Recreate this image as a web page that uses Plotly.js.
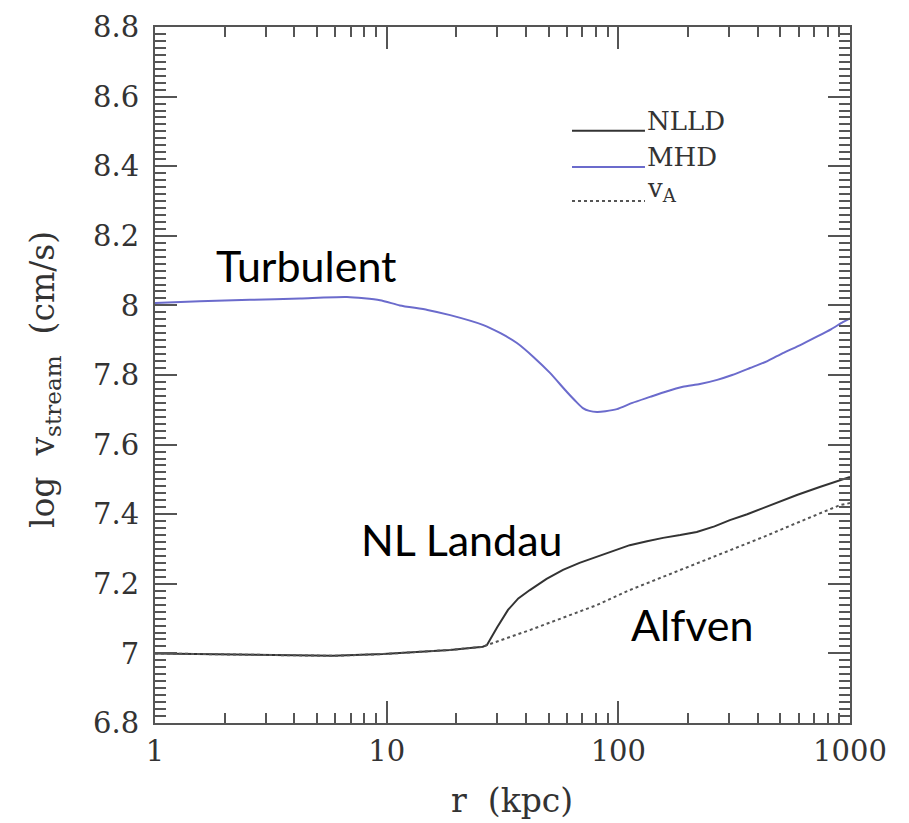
<!DOCTYPE html>
<html>
<head>
<meta charset="utf-8">
<script src="https://cdn.plot.ly/plotly-3.0.1.min.js"></script>
<style>
  html, body { margin: 0; padding: 0; background: #fff; }
  #chart { width: 909px; height: 823px; }
</style>
</head>
<body>
<div id="chart"></div>
<script>
// Streaming speed vs radius: MHD (turbulent), non-linear Landau damping, Alfven speed
const rMHD = [1, 1.56, 2.57, 4.23, 6.74, 9.36, 11.4, 15.0, 18.8, 26.0, 31.0, 36.5, 43.0, 50.7, 60.0, 66.0, 70.3, 75.0, 80.9, 88.0, 98.6, 115, 137, 160, 190, 225, 267, 310, 370, 440, 513, 610, 719, 831, 931, 1000];
const vMHD = [8.007, 8.012, 8.016, 8.020, 8.024, 8.015, 8.000, 7.987, 7.972, 7.944, 7.920, 7.892, 7.852, 7.806, 7.751, 7.722, 7.705, 7.697, 7.694, 7.696, 7.702, 7.720, 7.737, 7.752, 7.766, 7.774, 7.786, 7.800, 7.820, 7.840, 7.863, 7.886, 7.910, 7.932, 7.952, 7.963];

const rNLLD = [1, 2.57, 5.86, 9.64, 18.8, 26.0, 27.1, 30.0, 33.4, 37.0, 41.5, 49.0, 57.7, 68.0, 80.9, 95.0, 112, 133, 156, 185, 218, 260, 303, 360, 421, 500, 590, 740, 904, 1000];
const vNLLD = [7.000, 6.996, 6.993, 6.998, 7.010, 7.019, 7.024, 7.075, 7.125, 7.158, 7.182, 7.214, 7.240, 7.260, 7.277, 7.295, 7.311, 7.322, 7.332, 7.340, 7.349, 7.365, 7.383, 7.400, 7.418, 7.436, 7.455, 7.478, 7.498, 7.507];

const rVA = [1, 2.57, 5.86, 9.64, 18.8, 26.0, 27.1, 41.5, 57.7, 80.9, 112, 156, 218, 303, 421, 590, 904, 1000];
const vVA = [7.000, 6.996, 6.993, 6.998, 7.010, 7.019, 7.024, 7.067, 7.102, 7.139, 7.182, 7.220, 7.260, 7.297, 7.334, 7.375, 7.426, 7.432];

const seriesNames = ['NLLD', 'MHD', 'v<sub>A</sub>'];
const xTickVals = [1, 10, 100, 1000];
const xTickText = ['1', '10', '100', '1000'];
const xTitle = 'r  (kpc)';
const yTitle = 'log  v<sub>stream</sub>  (cm/s)';

const BLUE = '#6b6bcc';
const DARK = '#333333';
const DOT = '#555555';
const AXC = '#555555';
const serif = 'DejaVu Serif, serif';
const sans = 'Lato, "Open Sans", sans-serif';

const traces = [
  { x: rNLLD, y: vNLLD, mode: 'lines', name: seriesNames[0],
    line: { color: DARK, width: 2 }, showlegend: false },
  { x: rVA, y: vVA, mode: 'lines', name: seriesNames[2],
    line: { color: DOT, width: 2, dash: 'dot' }, showlegend: false },
  { x: rMHD, y: vMHD, mode: 'lines', name: seriesNames[1],
    line: { color: BLUE, width: 2, shape: 'spline', smoothing: 0.6 }, showlegend: false }
];

// legend keys drawn in paper space
const legX0 = 0.6, legX1 = 0.705;
const legY = [0.851, 0.799, 0.750];
const legColors = [DARK, BLUE, DOT];
const legDash = ['solid', 'solid', 'dot'];

const shapes = legY.map((y, i) => ({
  type: 'line', xref: 'paper', yref: 'paper',
  x0: legX0, x1: legX1, y0: y, y1: y,
  line: { color: legColors[i], width: 2, dash: legDash[i] }
}));

const annotations = legY.map((y, i) => ({
  xref: 'paper', yref: 'paper', x: legX1, y: y,
  xanchor: 'left', yanchor: 'bottom', yshift: -7,
  text: seriesNames[i], showarrow: false,
  font: { family: serif, size: 26, color: '#333' }
})).concat([
  { x: 0.652, y: 8.116, xref: 'x', yref: 'y', text: 'Turbulent', showarrow: false,
    xanchor: 'center', yanchor: 'middle', font: { family: sans, size: 43, color: '#000' } },
  { x: 1.325, y: 7.326, xref: 'x', yref: 'y', text: 'NL Landau', showarrow: false,
    xanchor: 'center', yanchor: 'middle', font: { family: sans, size: 43, color: '#000' } },
  { x: 2.318, y: 7.082, xref: 'x', yref: 'y', text: 'Alfven', showarrow: false,
    xanchor: 'center', yanchor: 'middle', font: { family: sans, size: 43, color: '#000' } },
  // axis titles
  { x: 0.514, y: -0.111, xref: 'paper', yref: 'paper', text: xTitle, showarrow: false,
    xanchor: 'center', yanchor: 'middle', font: { family: serif, size: 33, color: '#333' } },
  { x: -0.158, y: 0.493, xref: 'paper', yref: 'paper', text: yTitle, showarrow: false,
    textangle: -90, xanchor: 'center', yanchor: 'middle', font: { family: serif, size: 33, color: '#333' } }
]);

const axisCommon = {
  showline: true, linecolor: AXC, linewidth: 2, mirror: 'allticks',
  ticks: 'inside', ticklen: 22, tickwidth: 2, tickcolor: AXC,
  showgrid: false, zeroline: false,
  tickfont: { family: serif, size: 29, color: '#333' }
};

const layout = {
  width: 909, height: 823,
  margin: { l: 155, r: 59, t: 27, b: 100 },
  xaxis: Object.assign({}, axisCommon, {
    type: 'log', range: [0, 3],
    tickvals: xTickVals, ticktext: xTickText,
    ticklabelstandoff: 1,
    minor: { ticks: 'inside', ticklen: 10, tickwidth: 2, tickcolor: AXC, dtick: 'D1' }
  }),
  yaxis: Object.assign({}, axisCommon, {
    range: [6.8, 8.8], dtick: 0.2,
    ticklabelstandoff: 8,
    minor: { ticks: 'inside', ticklen: 11, tickwidth: 2, tickcolor: AXC, dtick: 0.02 }
  }),
  shapes: shapes,
  annotations: annotations
};

Plotly.newPlot('chart', traces, layout, { displayModeBar: false });
</script>
</body>
</html>
